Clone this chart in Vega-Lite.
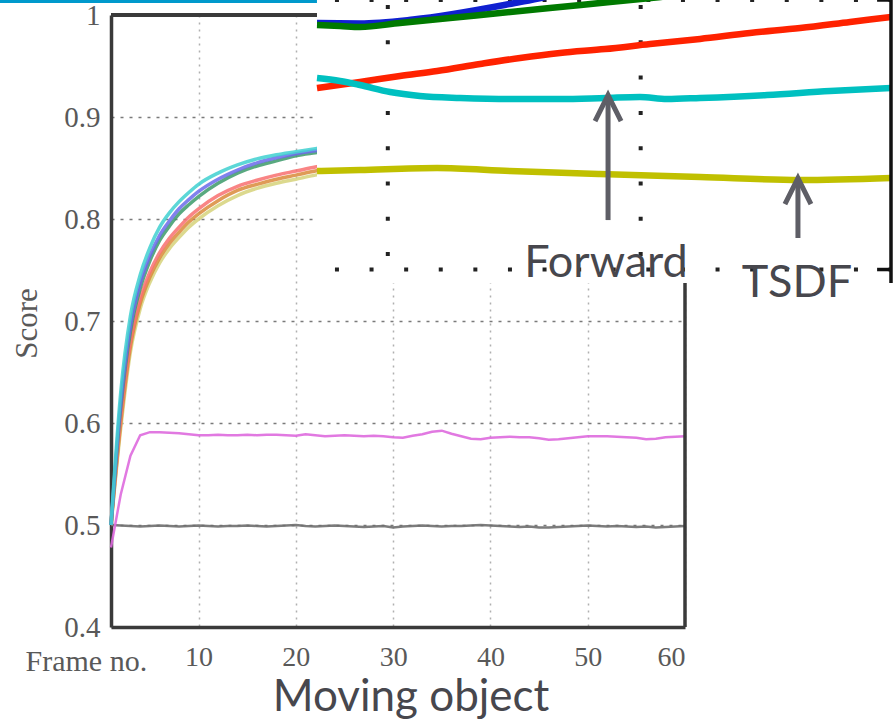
{
"$schema": "https://vega.github.io/schema/vega-lite/v6.json",
"width": 574, "height": 612,
"autosize": {"type": "none"},
"padding": {"left": 111, "top": 15, "right": 211, "bottom": 94},
"background": "white",
"config": {"view": {"stroke": null}},
"datasets": {
"gm": [
{"s":"gray","f":1,"v":0.5},{"s":"gray","f":2,"v":0.4995},{"s":"gray","f":3,"v":0.499},{"s":"gray","f":4,"v":0.4985},{"s":"gray","f":5,"v":0.499},{"s":"gray","f":6,"v":0.4995},{"s":"gray","f":7,"v":0.499},{"s":"gray","f":8,"v":0.4985},{"s":"gray","f":9,"v":0.499},{"s":"gray","f":10,"v":0.4995},
{"s":"gray","f":11,"v":0.499},{"s":"gray","f":12,"v":0.4985},{"s":"gray","f":13,"v":0.499},{"s":"gray","f":14,"v":0.499},{"s":"gray","f":15,"v":0.4995},{"s":"gray","f":16,"v":0.499},{"s":"gray","f":17,"v":0.4985},{"s":"gray","f":18,"v":0.499},{"s":"gray","f":19,"v":0.4995},{"s":"gray","f":20,"v":0.5},
{"s":"gray","f":21,"v":0.499},{"s":"gray","f":22,"v":0.4985},{"s":"gray","f":23,"v":0.499},{"s":"gray","f":24,"v":0.4995},{"s":"gray","f":25,"v":0.499},{"s":"gray","f":26,"v":0.4985},{"s":"gray","f":27,"v":0.498},{"s":"gray","f":28,"v":0.4985},{"s":"gray","f":29,"v":0.499},{"s":"gray","f":30,"v":0.4975},
{"s":"gray","f":31,"v":0.4985},{"s":"gray","f":32,"v":0.499},{"s":"gray","f":33,"v":0.4995},{"s":"gray","f":34,"v":0.499},{"s":"gray","f":35,"v":0.4985},{"s":"gray","f":36,"v":0.499},{"s":"gray","f":37,"v":0.499},{"s":"gray","f":38,"v":0.4995},{"s":"gray","f":39,"v":0.5},{"s":"gray","f":40,"v":0.4995},
{"s":"gray","f":41,"v":0.499},{"s":"gray","f":42,"v":0.4985},{"s":"gray","f":43,"v":0.498},{"s":"gray","f":44,"v":0.4985},{"s":"gray","f":45,"v":0.4975},{"s":"gray","f":46,"v":0.4975},{"s":"gray","f":47,"v":0.498},{"s":"gray","f":48,"v":0.4985},{"s":"gray","f":49,"v":0.499},{"s":"gray","f":50,"v":0.4995},
{"s":"gray","f":51,"v":0.499},{"s":"gray","f":52,"v":0.4985},{"s":"gray","f":53,"v":0.499},{"s":"gray","f":54,"v":0.4985},{"s":"gray","f":55,"v":0.498},{"s":"gray","f":56,"v":0.4985},{"s":"gray","f":57,"v":0.4975},{"s":"gray","f":58,"v":0.498},{"s":"gray","f":59,"v":0.4985},{"s":"gray","f":60,"v":0.499},
{"s":"magenta","f":1,"v":0.478},{"s":"magenta","f":2,"v":0.53},{"s":"magenta","f":3,"v":0.568},{"s":"magenta","f":4,"v":0.588},{"s":"magenta","f":5,"v":0.591},{"s":"magenta","f":6,"v":0.591},{"s":"magenta","f":7,"v":0.5905},{"s":"magenta","f":8,"v":0.59},{"s":"magenta","f":9,"v":0.589},{"s":"magenta","f":10,"v":0.588},
{"s":"magenta","f":11,"v":0.588},{"s":"magenta","f":12,"v":0.5885},{"s":"magenta","f":13,"v":0.588},{"s":"magenta","f":14,"v":0.588},{"s":"magenta","f":15,"v":0.5885},{"s":"magenta","f":16,"v":0.588},{"s":"magenta","f":17,"v":0.5885},{"s":"magenta","f":18,"v":0.5885},{"s":"magenta","f":19,"v":0.588},{"s":"magenta","f":20,"v":0.5875},
{"s":"magenta","f":21,"v":0.589},{"s":"magenta","f":22,"v":0.588},{"s":"magenta","f":23,"v":0.587},{"s":"magenta","f":24,"v":0.5875},{"s":"magenta","f":25,"v":0.588},{"s":"magenta","f":26,"v":0.5875},{"s":"magenta","f":27,"v":0.587},{"s":"magenta","f":28,"v":0.5875},{"s":"magenta","f":29,"v":0.587},{"s":"magenta","f":30,"v":0.586},
{"s":"magenta","f":31,"v":0.5855},{"s":"magenta","f":32,"v":0.5875},{"s":"magenta","f":33,"v":0.589},{"s":"magenta","f":34,"v":0.5915},{"s":"magenta","f":35,"v":0.5925},{"s":"magenta","f":36,"v":0.5895},{"s":"magenta","f":37,"v":0.587},{"s":"magenta","f":38,"v":0.5845},{"s":"magenta","f":39,"v":0.584},{"s":"magenta","f":40,"v":0.5855},
{"s":"magenta","f":41,"v":0.586},{"s":"magenta","f":42,"v":0.5865},{"s":"magenta","f":43,"v":0.586},{"s":"magenta","f":44,"v":0.586},{"s":"magenta","f":45,"v":0.585},{"s":"magenta","f":46,"v":0.5835},{"s":"magenta","f":47,"v":0.584},{"s":"magenta","f":48,"v":0.585},{"s":"magenta","f":49,"v":0.586},{"s":"magenta","f":50,"v":0.587},
{"s":"magenta","f":51,"v":0.587},{"s":"magenta","f":52,"v":0.587},{"s":"magenta","f":53,"v":0.5865},{"s":"magenta","f":54,"v":0.586},{"s":"magenta","f":55,"v":0.5855},{"s":"magenta","f":56,"v":0.584},{"s":"magenta","f":57,"v":0.5845},{"s":"magenta","f":58,"v":0.586},{"s":"magenta","f":59,"v":0.5865},{"s":"magenta","f":60,"v":0.587}
],
"bundle": [
{"s":"yellow","f":1,"v":0.5},{"s":"yellow","f":2,"v":0.595},{"s":"yellow","f":3,"v":0.67},{"s":"yellow","f":4,"v":0.712},{"s":"yellow","f":5,"v":0.738},{"s":"yellow","f":6,"v":0.757},{"s":"yellow","f":7,"v":0.771},{"s":"yellow","f":8,"v":0.782},{"s":"yellow","f":9,"v":0.792},{"s":"yellow","f":10,"v":0.8},{"s":"yellow","f":12,"v":0.813},{"s":"yellow","f":14,"v":0.823},{"s":"yellow","f":16,"v":0.83},{"s":"yellow","f":18,"v":0.835},{"s":"yellow","f":20,"v":0.839},{"s":"yellow","f":22,"v":0.843},{"s":"yellow","f":25,"v":0.848},{"s":"yellow","f":30,"v":0.855},{"s":"yellow","f":40,"v":0.866},{"s":"yellow","f":50,"v":0.874},{"s":"yellow","f":60,"v":0.88},
{"s":"orange","f":1,"v":0.5},{"s":"orange","f":2,"v":0.6},{"s":"orange","f":3,"v":0.675},{"s":"orange","f":4,"v":0.717},{"s":"orange","f":5,"v":0.743},{"s":"orange","f":6,"v":0.762},{"s":"orange","f":7,"v":0.776},{"s":"orange","f":8,"v":0.787},{"s":"orange","f":9,"v":0.797},{"s":"orange","f":10,"v":0.805},{"s":"orange","f":12,"v":0.818},{"s":"orange","f":14,"v":0.828},{"s":"orange","f":16,"v":0.834},{"s":"orange","f":18,"v":0.839},{"s":"orange","f":20,"v":0.843},{"s":"orange","f":22,"v":0.847},{"s":"orange","f":25,"v":0.852},{"s":"orange","f":30,"v":0.859},{"s":"orange","f":40,"v":0.87},{"s":"orange","f":50,"v":0.878},{"s":"orange","f":60,"v":0.884},
{"s":"red","f":1,"v":0.5},{"s":"red","f":2,"v":0.605},{"s":"red","f":3,"v":0.68},{"s":"red","f":4,"v":0.722},{"s":"red","f":5,"v":0.748},{"s":"red","f":6,"v":0.767},{"s":"red","f":7,"v":0.781},{"s":"red","f":8,"v":0.792},{"s":"red","f":9,"v":0.802},{"s":"red","f":10,"v":0.81},{"s":"red","f":12,"v":0.823},{"s":"red","f":14,"v":0.832},{"s":"red","f":16,"v":0.838},{"s":"red","f":18,"v":0.843},{"s":"red","f":20,"v":0.847},{"s":"red","f":22,"v":0.851},{"s":"red","f":25,"v":0.856},{"s":"red","f":30,"v":0.863},{"s":"red","f":40,"v":0.874},{"s":"red","f":50,"v":0.882},{"s":"red","f":60,"v":0.888},
{"s":"green","f":1,"v":0.5},{"s":"green","f":2,"v":0.615},{"s":"green","f":3,"v":0.69},{"s":"green","f":4,"v":0.732},{"s":"green","f":5,"v":0.759},{"s":"green","f":6,"v":0.779},{"s":"green","f":7,"v":0.793},{"s":"green","f":8,"v":0.805},{"s":"green","f":9,"v":0.814},{"s":"green","f":10,"v":0.822},{"s":"green","f":12,"v":0.835},{"s":"green","f":14,"v":0.845},{"s":"green","f":16,"v":0.852},{"s":"green","f":18,"v":0.857},{"s":"green","f":20,"v":0.862},{"s":"green","f":22,"v":0.865},{"s":"green","f":25,"v":0.869},{"s":"green","f":30,"v":0.875},{"s":"green","f":40,"v":0.884},{"s":"green","f":50,"v":0.889},{"s":"green","f":60,"v":0.893},
{"s":"blue","f":1,"v":0.5},{"s":"blue","f":2,"v":0.62},{"s":"blue","f":3,"v":0.695},{"s":"blue","f":4,"v":0.737},{"s":"blue","f":5,"v":0.764},{"s":"blue","f":6,"v":0.784},{"s":"blue","f":7,"v":0.798},{"s":"blue","f":8,"v":0.81},{"s":"blue","f":9,"v":0.819},{"s":"blue","f":10,"v":0.827},{"s":"blue","f":12,"v":0.839},{"s":"blue","f":14,"v":0.848},{"s":"blue","f":16,"v":0.855},{"s":"blue","f":18,"v":0.86},{"s":"blue","f":20,"v":0.864},{"s":"blue","f":22,"v":0.867},{"s":"blue","f":25,"v":0.871},{"s":"blue","f":30,"v":0.877},{"s":"blue","f":40,"v":0.886},{"s":"blue","f":50,"v":0.891},{"s":"blue","f":60,"v":0.894},
{"s":"cyan","f":1,"v":0.5},{"s":"cyan","f":2,"v":0.63},{"s":"cyan","f":3,"v":0.705},{"s":"cyan","f":4,"v":0.745},{"s":"cyan","f":5,"v":0.772},{"s":"cyan","f":6,"v":0.792},{"s":"cyan","f":7,"v":0.806},{"s":"cyan","f":8,"v":0.817},{"s":"cyan","f":9,"v":0.826},{"s":"cyan","f":10,"v":0.834},{"s":"cyan","f":12,"v":0.845},{"s":"cyan","f":14,"v":0.853},{"s":"cyan","f":16,"v":0.859},{"s":"cyan","f":18,"v":0.863},{"s":"cyan","f":20,"v":0.866},{"s":"cyan","f":22,"v":0.869},{"s":"cyan","f":25,"v":0.873},{"s":"cyan","f":30,"v":0.879},{"s":"cyan","f":40,"v":0.887},{"s":"cyan","f":50,"v":0.892},{"s":"cyan","f":60,"v":0.895}
],
"inset": [
{"s":"iblue","f":27.2,"v":0.89829},{"s":"iblue","f":28.9,"v":0.89826},{"s":"iblue","f":31.0,"v":0.89855},{"s":"iblue","f":35.23,"v":0.89985},{"s":"iblue","f":37.0,"v":0.9005},{"s":"iblue","f":42.35,"v":0.90186},{"s":"iblue","f":49.9,"v":0.9035},
{"s":"igreen","f":27.2,"v":0.89814},{"s":"igreen","f":28.11,"v":0.89807},{"s":"igreen","f":28.9,"v":0.898},{"s":"igreen","f":30.48,"v":0.89829},{"s":"igreen","f":32.46,"v":0.89866},{"s":"igreen","f":34.44,"v":0.89904},{"s":"igreen","f":36.41,"v":0.89941},{"s":"igreen","f":38.79,"v":0.89985},{"s":"igreen","f":41.56,"v":0.90037},{"s":"igreen","f":49.9,"v":0.90193},
{"s":"ired","f":27.2,"v":0.89347},{"s":"ired","f":28.9,"v":0.89392},{"s":"ired","f":30.48,"v":0.89436},{"s":"ired","f":31.95,"v":0.89473},{"s":"ired","f":33.65,"v":0.89525},{"s":"ired","f":35.23,"v":0.8957},{"s":"ired","f":36.81,"v":0.89607},{"s":"ired","f":38.59,"v":0.89636},{"s":"ired","f":40.37,"v":0.89673},{"s":"ired","f":42.35,"v":0.89711},{"s":"ired","f":44.32,"v":0.89755},{"s":"ired","f":46.31,"v":0.89792},{"s":"ired","f":48.28,"v":0.89837},{"s":"ired","f":49.9,"v":0.89874},
{"s":"icyan","f":27.2,"v":0.89421},{"s":"icyan","f":28.11,"v":0.89399},{"s":"icyan","f":28.9,"v":0.89369},{"s":"icyan","f":30.09,"v":0.89317},{"s":"icyan","f":31.27,"v":0.89288},{"s":"icyan","f":32.86,"v":0.89273},{"s":"icyan","f":34.83,"v":0.89265},{"s":"icyan","f":36.81,"v":0.89265},{"s":"icyan","f":38.59,"v":0.89273},{"s":"icyan","f":39.97,"v":0.8928},{"s":"icyan","f":41.04,"v":0.89265},{"s":"icyan","f":42.35,"v":0.89273},{"s":"icyan","f":45.0,"v":0.89295},{"s":"icyan","f":47.49,"v":0.89325},{"s":"icyan","f":49.9,"v":0.89347},
{"s":"iyellow","f":27.2,"v":0.88731},{"s":"iyellow","f":28.9,"v":0.88739},{"s":"iyellow","f":31.95,"v":0.88753},{"s":"iyellow","f":34.83,"v":0.88731},{"s":"iyellow","f":38.39,"v":0.88709},{"s":"iyellow","f":42.35,"v":0.88687},{"s":"iyellow","f":46.31,"v":0.88664},{"s":"iyellow","f":49.9,"v":0.88679}
]
},
"resolve": {"scale": {"x": "independent", "y": "independent", "color": "independent"}, "axis": {"x": "independent", "y": "independent"}},
"layer": [
{
"data": {"values": [{}]},
"mark": {"type": "rect", "color": "#0099cc"},
"encoding": {
"x": {"datum": -10.41, "type": "quantitative", "scale": {"domain": [1, 60], "nice": false, "zero": false}, "axis": null},
"x2": {"datum": 22.17},
"y": {"datum": 1.0147, "type": "quantitative", "scale": {"domain": [0.4, 1], "nice": false, "zero": false}, "axis": null},
"y2": {"datum": 1.01176}
}
},
{
"data": {"name": "gm"},
"mark": {"type": "line", "strokeWidth": 2.5, "opacity": 0.9},
"encoding": {
"x": {"field": "f", "type": "quantitative",
"scale": {"domain": [1, 60], "nice": false, "zero": false},
"axis": {"orient": "bottom", "values": [10, 20, 30, 40, 50, 60], "title": "Frame no.", "grid": true, "gridColor": "#b0b0b0", "gridDash": [2, 5], "gridWidth": 1.5,
"domainColor": "#3a3a3a", "domainWidth": 3.5, "ticks": false, "tickSize": 0,
"labelFont": "Liberation Serif", "labelFontSize": 28, "labelColor": "#595959", "labelPadding": 38, "labelBaseline": "alphabetic",
"titleFont": "Liberation Serif", "titleFontSize": 30, "titleFontWeight": "normal", "titleColor": "#595959",
"titleX": -86, "titleY": 43, "titleAnchor": "start", "titleAlign": "left", "titleBaseline": "alphabetic"}},
"y": {"field": "v", "type": "quantitative",
"scale": {"domain": [0.4, 1], "nice": false, "zero": false},
"axis": {"orient": "left", "values": [0.4, 0.5, 0.6, 0.7, 0.8, 0.9, 1], "format": ".1~f", "title": "Score", "grid": true, "gridColor": "#7a7a7a", "gridDash": [3, 6], "gridWidth": 1.5,
"domainColor": "#3a3a3a", "domainWidth": 3.5, "ticks": false, "tickSize": 0,
"labelFont": "Liberation Serif", "labelFontSize": 29, "labelColor": "#595959", "labelPadding": 11,
"titleFont": "Liberation Serif", "titleFontSize": 31, "titleFontWeight": "normal", "titleColor": "#595959",
"titleX": -84, "titleY": 308, "titleAngle": -90, "titleAlign": "center", "titleBaseline": "middle"}},
"color": {"field": "s", "type": "nominal", "legend": null,
"scale": {"domain": ["gray", "magenta"], "range": ["#6e6e6e", "#de6ade"]}}
}
},
{
"data": {"name": "bundle"},
"mark": {"type": "line", "strokeWidth": 3.5, "interpolate": "monotone", "opacity": 0.85},
"encoding": {
"x": {"field": "f", "type": "quantitative", "scale": {"domain": [1, 60], "nice": false, "zero": false}, "axis": null},
"y": {"field": "v", "type": "quantitative", "scale": {"domain": [0.4, 1], "nice": false, "zero": false}, "axis": null},
"color": {"field": "s", "type": "nominal", "legend": null,
"scale": {"domain": ["yellow", "orange", "red", "green", "blue", "cyan"],
"range": ["#d6d27a", "#d9893a", "#f87070", "#3c9a6a", "#6b6bea", "#3fd0d0"]}}
}
},
{
"data": {"values": [{}]},
"mark": {"type": "rule", "color": "#3a3a3a", "strokeWidth": 4},
"encoding": {
"x": {"datum": 1, "type": "quantitative", "scale": {"domain": [1, 60], "nice": false, "zero": false}, "axis": null},
"x2": {"datum": 60},
"y": {"datum": 1, "type": "quantitative", "scale": {"domain": [0.4, 1], "nice": false, "zero": false}, "axis": null}
}
},
{
"data": {"values": [{}]},
"mark": {"type": "rule", "color": "#3a3a3a", "strokeWidth": 3.5},
"encoding": {
"x": {"datum": 60, "type": "quantitative", "scale": {"domain": [1, 60], "nice": false, "zero": false}, "axis": null},
"y": {"datum": 0.4, "type": "quantitative", "scale": {"domain": [0.4, 1], "nice": false, "zero": false}, "axis": null},
"y2": {"datum": 1}
}
},
{
"data": {"values": [{}]},
"mark": {"type": "text", "font": "Lato", "fontSize": 44, "color": "#47474d", "align": "center", "baseline": "alphabetic"},
"encoding": {
"x": {"datum": 31.84, "type": "quantitative", "scale": {"domain": [1, 60], "nice": false, "zero": false}, "axis": null},
"y": {"datum": 0.31765, "type": "quantitative", "scale": {"domain": [0.4, 1], "nice": false, "zero": false}, "axis": null},
"text": {"value": "Moving object"}
}
},
{
"data": {"values": [{}]},
"mark": {"type": "rect", "color": "white"},
"encoding": {
"x": {"datum": 27.2, "type": "quantitative", "scale": {"domain": [27.2, 49.9], "range": [206, 780], "nice": false, "zero": false}, "axis": null},
"x2": {"datum": 49.9},
"y": {"datum": 0.879, "type": "quantitative", "scale": {"domain": [0.879, 0.9], "range": [268, -15], "nice": false, "zero": false}, "axis": null},
"y2": {"datum": 0.9}
}
},
{
"data": {"values": [{"g": 30}, {"g": 40}]},
"mark": {"type": "rule", "color": "#222222", "strokeWidth": 4, "strokeDash": [4, 31.3]},
"encoding": {
"x": {"field": "g", "type": "quantitative", "scale": {"domain": [27.2, 49.9], "range": [206, 780], "nice": false, "zero": false}, "axis": null},
"y": {"datum": 0.89963, "type": "quantitative", "scale": {"domain": [0.879, 0.9], "range": [268, -15], "nice": false, "zero": false}, "axis": null},
"y2": {"datum": 0.88}
}
},
{
"data": {"values": [{"h": 0.88}, {"h": 0.9}]},
"mark": {"type": "rule", "color": "#222222", "strokeWidth": 4, "strokeDash": [4, 30.6]},
"encoding": {
"x": {"datum": 27.91, "type": "quantitative", "scale": {"domain": [27.2, 49.9], "range": [206, 780], "nice": false, "zero": false}, "axis": null},
"x2": {"datum": 49.9},
"y": {"field": "h", "type": "quantitative", "scale": {"domain": [0.879, 0.9], "range": [268, -15], "nice": false, "zero": false}, "axis": null}
}
},
{
"data": {"name": "inset"},
"mark": {"type": "line", "strokeWidth": 6.5, "interpolate": "monotone"},
"encoding": {
"x": {"field": "f", "type": "quantitative", "scale": {"domain": [27.2, 49.9], "range": [206, 780], "nice": false, "zero": false}, "axis": null},
"y": {"field": "v", "type": "quantitative", "scale": {"domain": [0.879, 0.9], "range": [268, -15], "nice": false, "zero": false}, "axis": null},
"color": {"field": "s", "type": "nominal", "legend": null,
"scale": {"domain": ["iblue", "igreen", "ired", "icyan", "iyellow"], "range": ["#1020d0", "#007a00", "#ff2200", "#00c0c0", "#c0c000"]}}
}
},
{
"data": {"values": [{}]},
"mark": {"type": "rule", "color": "#111111", "strokeWidth": 3.5},
"encoding": {
"x": {"datum": 49.9, "type": "quantitative", "scale": {"domain": [27.2, 49.9], "range": [206, 780], "nice": false, "zero": false}, "axis": null},
"y": {"datum": 0.879, "type": "quantitative", "scale": {"domain": [0.879, 0.9], "range": [268, -15], "nice": false, "zero": false}, "axis": null},
"y2": {"datum": 0.9}
}
},
{
"data": {"values": [{"h": 0.88}, {"h": 0.9}]},
"mark": {"type": "rule", "color": "#111111", "strokeWidth": 3.5},
"encoding": {
"x": {"datum": 49.35, "type": "quantitative", "scale": {"domain": [27.2, 49.9], "range": [206, 780], "nice": false, "zero": false}, "axis": null},
"x2": {"datum": 49.9},
"y": {"field": "h", "type": "quantitative", "scale": {"domain": [0.879, 0.9], "range": [268, -15], "nice": false, "zero": false}, "axis": null}
}
},
{
"data": {"values": [{}]},
"mark": {"type": "rule", "color": "#5e5e66", "strokeWidth": 5},
"encoding": {
"x": {"datum": 38.71, "type": "quantitative", "scale": {"domain": [27.2, 49.9], "range": [206, 780], "nice": false, "zero": false}, "axis": null},
"y": {"datum": 0.89280, "type": "quantitative", "scale": {"domain": [0.879, 0.9], "range": [268, -15], "nice": false, "zero": false}, "axis": null},
"y2": {"datum": 0.88367}
}
},
{
"data": {"values": [{}]},
"mark": {"type": "point", "shape": "M-0.5,1L0,0L0.5,1", "filled": false, "color": "#5e5e66", "strokeWidth": 5, "size": 2704, "opacity": 1},
"encoding": {
"x": {"datum": 38.71, "type": "quantitative", "scale": {"domain": [27.2, 49.9], "range": [206, 780], "nice": false, "zero": false}, "axis": null},
"y": {"datum": 0.89295, "type": "quantitative", "scale": {"domain": [0.879, 0.9], "range": [268, -15], "nice": false, "zero": false}, "axis": null}
}
},
{
"data": {"values": [{}]},
"mark": {"type": "rule", "color": "#5e5e66", "strokeWidth": 5},
"encoding": {
"x": {"datum": 46.22, "type": "quantitative", "scale": {"domain": [27.2, 49.9], "range": [206, 780], "nice": false, "zero": false}, "axis": null},
"y": {"datum": 0.88664, "type": "quantitative", "scale": {"domain": [0.879, 0.9], "range": [268, -15], "nice": false, "zero": false}, "axis": null},
"y2": {"datum": 0.88234}
}
},
{
"data": {"values": [{}]},
"mark": {"type": "point", "shape": "M-0.5,1L0,0L0.5,1", "filled": false, "color": "#5e5e66", "strokeWidth": 5, "size": 2704, "opacity": 1},
"encoding": {
"x": {"datum": 46.22, "type": "quantitative", "scale": {"domain": [27.2, 49.9], "range": [206, 780], "nice": false, "zero": false}, "axis": null},
"y": {"datum": 0.88679, "type": "quantitative", "scale": {"domain": [0.879, 0.9], "range": [268, -15], "nice": false, "zero": false}, "axis": null}
}
},
{
"data": {"values": [{}]},
"mark": {"type": "text", "font": "Lato", "fontSize": 45, "color": "#47474d", "align": "center", "baseline": "alphabetic"},
"encoding": {
"x": {"datum": 38.63, "type": "quantitative", "scale": {"domain": [27.2, 49.9], "range": [206, 780], "nice": false, "zero": false}, "axis": null},
"y": {"datum": 0.87944, "type": "quantitative", "scale": {"domain": [0.879, 0.9], "range": [268, -15], "nice": false, "zero": false}, "axis": null},
"text": {"value": "Forward"}
}
},
{
"data": {"values": [{}]},
"mark": {"type": "text", "font": "Lato", "fontSize": 45, "color": "#47474d", "align": "center", "baseline": "alphabetic"},
"encoding": {
"x": {"datum": 46.18, "type": "quantitative", "scale": {"domain": [27.2, 49.9], "range": [206, 780], "nice": false, "zero": false}, "axis": null},
"y": {"datum": 0.87796, "type": "quantitative", "scale": {"domain": [0.879, 0.9], "range": [268, -15], "nice": false, "zero": false}, "axis": null},
"text": {"value": "TSDF"}
}
}
]
}
